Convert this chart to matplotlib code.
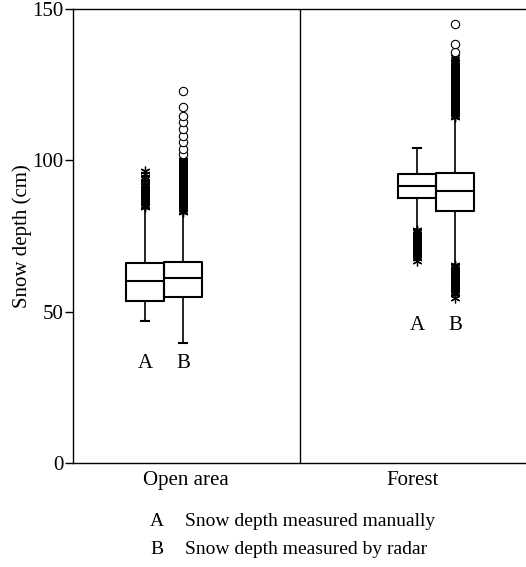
"""
Snow depth box plots: open area vs forest, manual (A) vs radar (B).
"""

import matplotlib

matplotlib.use("Agg")

import matplotlib.pyplot as plt

plt.rcParams["font.family"] = ["Liberation Serif", "DejaVu Serif"]

# ============================================================
# Data (cm)
# ============================================================

sites = ["Open area", "Forest"]
series = ["A", "B"]
legend_lines = [
    "Snow depth measured manually",
    "Snow depth measured by radar",
]

# whislo, q1, median, q3, whishi
open_a = [47.0, 53.6, 60.2, 66.1, 84.2]
open_b = [39.7, 54.9, 61.0, 66.3, 82.5]
forest_a = [77.2, 87.4, 91.5, 95.6, 104.2]
forest_b = [65.6, 83.2, 89.8, 95.9, 114.0]

# outliers drawn as asterisks
open_a_stars = [84.6, 85.0, 85.4, 85.8, 86.2, 86.6, 87.0, 87.4, 87.8, 88.2,
                88.6, 89.0, 89.4, 89.8, 90.2, 90.6, 91.0, 91.4, 91.8, 92.2,
                93.0, 93.8, 94.6, 95.4, 96.4]
open_b_stars = [83.0, 83.4, 83.8, 84.2, 84.6, 85.0, 85.4, 85.8, 86.2, 86.6,
                87.0, 87.4, 87.8, 88.2, 88.6, 89.0, 89.4, 89.8, 90.2, 90.6,
                91.0, 91.4, 91.8, 92.2, 92.6, 93.0, 93.4, 93.8, 94.2, 94.6,
                95.0, 95.4, 95.8, 96.2, 96.6, 97.0, 97.4, 97.8, 98.2, 98.6,
                99.0, 99.4, 99.8, 100.2]
forest_a_stars = [77.0, 76.6, 76.2, 75.8, 75.4, 75.0, 74.6, 74.2, 73.8, 73.4,
                  73.0, 72.6, 72.2, 71.8, 71.4, 71.0, 70.6, 70.2, 69.8, 69.4,
                  69.0, 68.6, 68.2, 67.8, 66.7]
forest_b_stars = [65.4, 65.0, 64.6, 64.2, 63.8, 63.4, 63.0, 62.6, 62.2, 61.8,
                  61.4, 61.0, 60.6, 60.2, 59.8, 59.4, 59.0, 58.6, 58.2, 57.8,
                  57.4, 57.0, 56.6, 56.2, 55.8, 54.6,
                  114.4, 114.8, 115.2, 115.6, 116.0, 116.4, 116.8, 117.2, 117.6,
                  118.0, 118.4, 118.8, 119.2, 119.6, 120.0, 120.4, 120.8, 121.2,
                  121.6, 122.0, 122.4, 122.8, 123.2, 123.6, 124.0, 124.4, 124.8,
                  125.2, 125.6, 126.0, 126.4, 126.8, 127.2, 127.6, 128.0, 128.4,
                  128.8, 129.2, 129.6, 130.0, 130.4, 130.8, 131.2, 131.6, 132.0,
                  132.4, 132.8, 133.4, 134.2]

# outliers drawn as open circles
open_a_circles = []
open_b_circles = [102.0, 103.6, 105.9, 108.0, 110.3, 112.6, 114.7, 117.6, 122.9]
forest_a_circles = []
forest_b_circles = [135.7, 138.4, 145.0]

box_stats = [open_a, open_b, forest_a, forest_b]
star_sets = [open_a_stars, open_b_stars, forest_a_stars, forest_b_stars]
circle_sets = [open_a_circles, open_b_circles, forest_a_circles, forest_b_circles]
box_labels = ["A", "B", "A", "B"]
label_heights = [33.0, 33.0, 45.3, 45.3]

# which whisker caps show (low, high); the others run into outliers
caps_shown = [(True, False), (True, False), (False, True), (False, False)]

# ============================================================
# Figure
# ============================================================

fig = plt.figure(figsize=(5.26, 5.67), dpi=100)
ax = fig.add_axes([0.1388, 0.1834, 0.8612, 0.8007])

positions = [0.318, 0.486, 1.519, 1.687]

stats = []
for s in box_stats:
    stats.append(
        dict(whislo=s[0], q1=s[1], med=s[2], q3=s[3], whishi=s[4])
    )

parts = ax.bxp(
    stats,
    positions=positions,
    widths=0.168,
    showfliers=False,
    capwidths=0.032,
    boxprops=dict(color="black", linewidth=1.5),
    medianprops=dict(color="black", linewidth=1.5),
    whiskerprops=dict(color="black", linewidth=1.2),
    capprops=dict(color="black", linewidth=1.5),
    manage_ticks=False,
)

for i, (lo, hi) in enumerate(caps_shown):
    parts["caps"][2 * i].set_visible(lo)
    parts["caps"][2 * i + 1].set_visible(hi)

for pos, stars, circles in zip(positions, star_sets, circle_sets):
    if stars:
        ax.plot(
            [pos] * len(stars),
            stars,
            linestyle="none",
            marker=(6, 2, 0),
            markersize=7,
            markeredgewidth=0.9,
            color="black",
        )
    if circles:
        ax.plot(
            [pos] * len(circles),
            circles,
            linestyle="none",
            marker="o",
            markersize=6,
            markerfacecolor="white",
            markeredgecolor="black",
            markeredgewidth=0.8,
        )

for pos, lab, h in zip(positions, box_labels, label_heights):
    ax.text(pos, h, lab, ha="center", va="center", fontsize=15)

ax.axvline(1.0, color="black", linewidth=1.0)

ax.set_xlim(0, 2)
ax.set_ylim(0, 150)
ax.set_xticks([0.5, 1.5])
ax.set_xticklabels(sites, fontsize=15)
ax.set_yticks([0, 50, 100, 150])
ax.tick_params(axis="x", length=0, pad=6)
ax.tick_params(axis="y", length=6, width=1.0, pad=1, labelsize=15)
ax.spines["right"].set_visible(False)
for sp in ["left", "bottom", "top"]:
    ax.spines[sp].set_linewidth(1.0)

ax.set_ylabel("Snow depth (cm)", fontsize=15, labelpad=0)

# legend text under the axes
fig.text(0.285, 0.0794, series[0], fontsize=14, va="center")
fig.text(0.352, 0.0794, legend_lines[0], fontsize=14, va="center")
fig.text(0.285, 0.0317, series[1], fontsize=14, va="center")
fig.text(0.352, 0.0317, legend_lines[1], fontsize=14, va="center")

fig.savefig("out.png", dpi=100)
